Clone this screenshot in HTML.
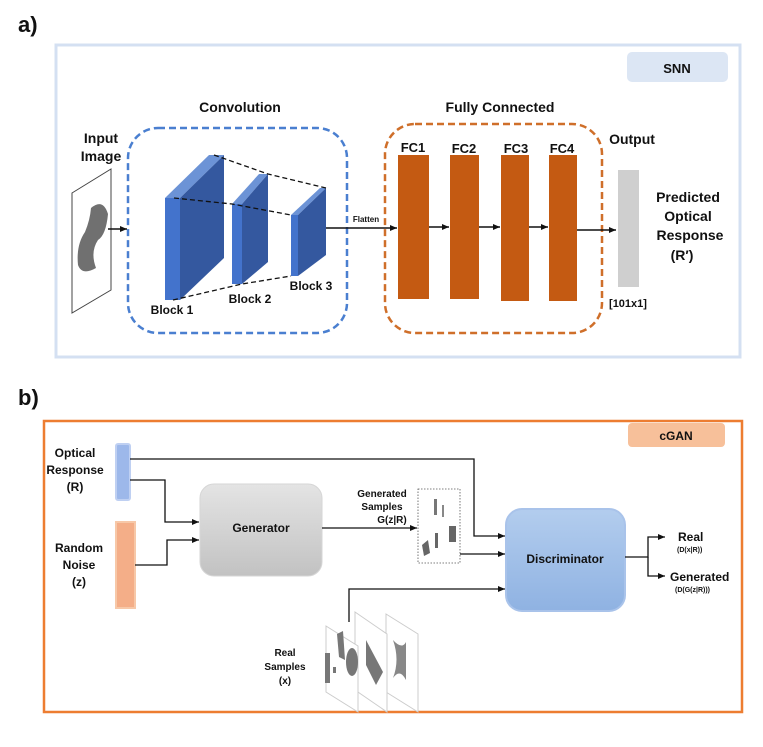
<!DOCTYPE html>
<html><head><meta charset="utf-8"><style>
body{margin:0;background:#fff}
svg{display:block}
text{font-family:"Liberation Sans",Arial,sans-serif;font-weight:bold;fill:#111}
</style></head><body>
<svg width="763" height="747" viewBox="0 0 763 747" xmlns="http://www.w3.org/2000/svg">
<defs>
<marker id="ar" markerWidth="8" markerHeight="8" refX="7" refY="4" orient="auto" markerUnits="userSpaceOnUse"><path d="M0,1 L7,4 L0,7 z" fill="#111"/></marker>
<linearGradient id="gb" x1="0" y1="0" x2="0" y2="1"><stop offset="0" stop-color="#e4e4e4"/><stop offset="1" stop-color="#c2c2c2"/></linearGradient>
<linearGradient id="db" x1="0" y1="0" x2="0" y2="1"><stop offset="0" stop-color="#b3cdee"/><stop offset="1" stop-color="#8fb2e2"/></linearGradient>
</defs>
<text x="18" y="32" font-size="22">a)</text>
<text x="18" y="405" font-size="22">b)</text>
<!-- top panel -->
<rect x="56" y="45" width="684" height="312" fill="none" stroke="#d4e0f2" stroke-width="3"/>
<rect x="627" y="52" width="101" height="30" rx="5" fill="#dce6f4"/>
<text x="677" y="73" font-size="13" text-anchor="middle">SNN</text>
<text x="240" y="112" font-size="14" text-anchor="middle">Convolution</text>
<text x="500" y="112" font-size="14" text-anchor="middle">Fully Connected</text>
<rect x="128" y="128" width="219" height="205" rx="30" fill="none" stroke="#4a7fd0" stroke-width="2.5" stroke-dasharray="7,4"/>
<rect x="385" y="124" width="217" height="209" rx="30" fill="none" stroke="#cf6f2a" stroke-width="2.5" stroke-dasharray="7,4"/>
<text x="101" y="143" font-size="14" text-anchor="middle">Input</text>
<text x="101" y="161" font-size="14" text-anchor="middle">Image</text>
<path d="M72,193 L111,169 L111,290 L72,313 Z" fill="#fff" stroke="#444" stroke-width="1"/>
<path d="M91,208 Q103,198 108,214 Q106,235 98,240 Q90,252 96,268 Q82,276 78,265 Q76,245 85,232 Q90,220 91,208 Z" fill="#707070"/>
<line x1="108" y1="229" x2="127" y2="229" stroke="#111" stroke-width="1.5" marker-end="url(#ar)"/>
<!-- blocks -->
<path d="M165,198 L209,155 L224,155 L180,198 Z" fill="#6c93d6"/>
<path d="M180,198 L224,155 L224,258 L180,300 Z" fill="#34589f"/>
<rect x="165" y="198" width="15" height="102" fill="#4373cc"/>
<path d="M232,204 L259,174 L268,174 L242,204 Z" fill="#6c93d6"/>
<path d="M242,204 L268,174 L268,262 L242,284 Z" fill="#34589f"/>
<rect x="232" y="204" width="10" height="80" fill="#4373cc"/>
<path d="M291,215 L320,188 L326,188 L298,215 Z" fill="#6c93d6"/>
<path d="M298,215 L326,188 L326,255 L298,276 Z" fill="#34589f"/>
<rect x="291" y="215" width="7" height="61" fill="#4373cc"/>
<g stroke="#111" stroke-width="1.3" stroke-dasharray="5,3" fill="none">
<path d="M214,155 L268,174 L326,188"/>
<path d="M174,198 L232,204 L291,215"/>
<path d="M173,300 L242,284 L291,276"/>
</g>
<text x="172" y="314" font-size="12" text-anchor="middle">Block 1</text>
<text x="250" y="303" font-size="12" text-anchor="middle">Block 2</text>
<text x="311" y="290" font-size="12" text-anchor="middle">Block 3</text>
<line x1="326" y1="228" x2="397" y2="228" stroke="#111" stroke-width="1.5" marker-end="url(#ar)"/>
<text x="366" y="222" font-size="8" text-anchor="middle">Flatten</text>
<rect x="398" y="155" width="31" height="144" fill="#c45a12"/>
<rect x="450" y="155" width="29" height="144" fill="#c45a12"/>
<rect x="501" y="155" width="28" height="146" fill="#c45a12"/>
<rect x="549" y="155" width="28" height="146" fill="#c45a12"/>
<text x="413" y="152" font-size="13" text-anchor="middle">FC1</text>
<text x="464" y="153" font-size="13" text-anchor="middle">FC2</text>
<text x="516" y="153" font-size="13" text-anchor="middle">FC3</text>
<text x="562" y="153" font-size="13" text-anchor="middle">FC4</text>
<g stroke="#111" stroke-width="1.5" marker-end="url(#ar)">
<line x1="429" y1="227" x2="449" y2="227"/>
<line x1="479" y1="227" x2="500" y2="227"/>
<line x1="529" y1="227" x2="548" y2="227"/>
<line x1="577" y1="230" x2="616" y2="230"/>
</g>
<text x="632" y="144" font-size="14" text-anchor="middle">Output</text>
<rect x="618" y="170" width="21" height="117" fill="#cfcfcf"/>
<text x="628" y="307" font-size="11" text-anchor="middle">[101x1]</text>
<text x="688" y="202" font-size="14" text-anchor="middle">Predicted</text>
<text x="688" y="221" font-size="14" text-anchor="middle">Optical</text>
<text x="690" y="240" font-size="14" text-anchor="middle">Response</text>
<text x="682" y="260" font-size="14" text-anchor="middle">(R′)</text>
<!-- bottom panel -->
<rect x="44" y="421" width="698" height="291" fill="none" stroke="#ed7d31" stroke-width="2.5"/>
<rect x="628" y="423" width="97" height="24" rx="4" fill="#f7c09a"/>
<text x="676" y="440" font-size="12" text-anchor="middle">cGAN</text>
<rect x="116" y="444" width="14" height="56" rx="2" fill="#9db8ea" stroke="#bfd0f2" stroke-width="2"/>
<rect x="116" y="522" width="19" height="86" fill="#f4ae88" stroke="#f7c8a8" stroke-width="2"/>
<text x="75" y="457" font-size="12" text-anchor="middle">Optical</text>
<text x="75" y="474" font-size="12" text-anchor="middle">Response</text>
<text x="75" y="491" font-size="12" text-anchor="middle">(R)</text>
<text x="79" y="552" font-size="12" text-anchor="middle">Random</text>
<text x="79" y="569" font-size="12" text-anchor="middle">Noise</text>
<text x="79" y="586" font-size="12" text-anchor="middle">(z)</text>
<rect x="200" y="484" width="122" height="92" rx="14" fill="url(#gb)" stroke="#d6d6d6"/>
<text x="261" y="532" font-size="12" text-anchor="middle">Generator</text>
<rect x="506" y="509" width="119" height="102" rx="16" fill="url(#db)" stroke="#a9c3ea" stroke-width="2"/>
<text x="565" y="563" font-size="12" text-anchor="middle">Discriminator</text>
<rect x="418" y="489" width="42" height="74" fill="#fff" stroke="#555" stroke-width="0.8" stroke-dasharray="1.5,1.5"/>
<rect x="434" y="499" width="3" height="16" fill="#777"/><rect x="442" y="505" width="2" height="12" fill="#888"/>
<rect x="449" y="526" width="7" height="16" fill="#666"/><rect x="435" y="533" width="3" height="15" fill="#666"/>
<path d="M422,545 L428,540 L430,553 L424,556 Z" fill="#666"/>
<text x="382" y="497" font-size="10" text-anchor="middle">Generated</text>
<text x="382" y="510" font-size="10" text-anchor="middle">Samples</text>
<text x="392" y="523" font-size="10" text-anchor="middle">G(z|R)</text>
<g stroke="#111" stroke-width="1.3" fill="none" marker-end="url(#ar)">
<path d="M130,459 L474,459 L474,536 L505,536"/>
<path d="M130,480 L165,480 L165,522 L199,522"/>
<path d="M135,565 L167,565 L167,540 L199,540"/>
<path d="M322,528 L417,528"/>
<path d="M460,554 L505,554"/>
<path d="M349,622 L349,589 L505,589"/>
<path d="M625,557 L648,557 L648,537 L665,537"/>
<path d="M648,557 L648,576 L665,576"/>
</g>
<text x="678" y="541" font-size="12">Real</text>
<text x="677" y="552" font-size="7">(D(x|R))</text>
<text x="670" y="581" font-size="12">Generated</text>
<text x="675" y="592" font-size="7">(D(G(z|R)))</text>
<!-- real samples -->
<g stroke="#ccc" stroke-width="1" fill="#fff">
<path d="M386,614 L418,634 L418,712 L386,692 Z"/>
<path d="M355,612 L387,634 L387,712 L355,690 Z"/>
<path d="M326,626 L358,646 L358,712 L326,692 Z"/>
</g>
<rect x="325" y="653" width="5" height="30" fill="#777"/><rect x="333" y="667" width="3" height="6" fill="#777"/>
<path d="M337,634 L343,631 L345,660 L339,657 Z" fill="#777"/>
<ellipse cx="352" cy="662" rx="6" ry="14" fill="#777"/>
<path d="M366,640 L383,672 L376,685 L366,665 Z" fill="#777"/>
<path d="M393,640 Q402,650 406,642 L406,680 Q400,668 393,678 Q400,660 393,640 Z" fill="#888"/>
<text x="285" y="656" font-size="10" text-anchor="middle">Real</text>
<text x="285" y="670" font-size="10" text-anchor="middle">Samples</text>
<text x="285" y="684" font-size="10" text-anchor="middle">(x)</text>
</svg>
</body></html>
